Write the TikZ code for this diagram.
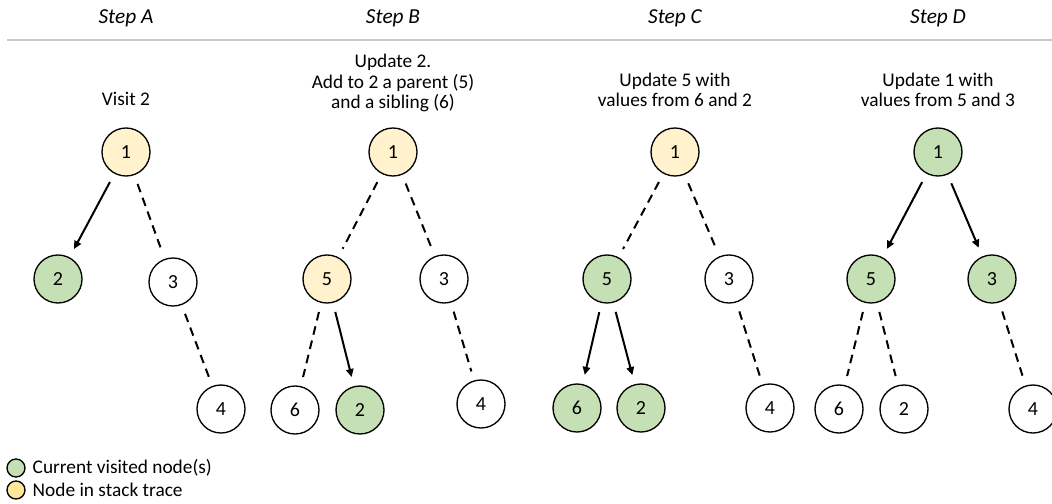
\documentclass[tikz,border=0pt]{standalone}
\usepackage{fontspec}
\setmainfont{Carlito}
\usetikzlibrary{arrows.meta}

\definecolor{visitgreen}{HTML}{C5E0B4}
\definecolor{stackyellow}{HTML}{FFF2CC}
\definecolor{legendyellow}{HTML}{FFE699}
\definecolor{rulegray}{HTML}{C8C8C8}

\begin{document}
\begin{tikzpicture}[
  x=0.75pt, y=-0.75pt,
  tnode/.style={circle, draw=black, line width=1pt, minimum size=36pt,
    inner sep=0pt, font=\fontsize{15}{18}\selectfont},
  visited/.style={tnode, fill=visitgreen},
  stacked/.style={tnode, fill=stackyellow},
  plain/.style={tnode, fill=white},
  header/.style={font=\fontsize{16}{19}\selectfont\itshape},
  descr/.style={align=center, font=\fontsize{14.5}{15.4}\selectfont},
  link/.style={line width=1.5pt, shorten <=7pt, shorten >=7pt},
  call/.style={link, -{Triangle[length=6pt,width=5.5pt]}},
  pending/.style={link, dash pattern=on 6.5pt off 4.5pt},
  legdot/.style={circle, draw=black, line width=1pt, minimum size=13.5pt, inner sep=0pt},
  legtext/.style={anchor=west, font=\fontsize{14.5}{17}\selectfont}
]
\useasboundingbox (0,0) rectangle (1052,503);

% column headers and rule
\node[header] (hA) at (126,18) {Step A};
\node[header] (hB) at (393,18) {Step B};
\node[header] (hC) at (675,18) {Step C};
\node[header] (hD) at (938,18) {Step D};
\coordinate (ruleL) at (7,40);
\coordinate (ruleR) at (1052,40);
\draw[rulegray, line width=0.8pt] (ruleL) -- (ruleR);

% step descriptions
\node[descr] (dA) at (126,99) {Visit 2};
\node[descr] (dB) at (393,83) {Update 2.\\Add to 2 a parent (5)\\and a sibling (6)};
\node[descr] (dC) at (675,90) {Update 5 with\\values from 6 and 2};
\node[descr] (dD) at (938,90) {Update 1 with\\values from 5 and 3};

% Step A
\node[stacked] (a1) at (126,152) {1};
\node[visited] (a2) at (58,279) {2};
\node[plain]   (a3) at (173,282) {3};
\node[plain]   (a4) at (221,409) {4};
\draw[call]    (a1) -- (a2);
\draw[pending] (a1) -- (a3);
\draw[pending] (a3) -- (a4);

% Step B
\node[stacked] (b1) at (393,152) {1};
\node[stacked] (b5) at (327,279) {5};
\node[plain]   (b3) at (444,279) {3};
\node[plain]   (b6) at (295,410) {6};
\node[visited] (b2) at (360,410) {2};
\node[plain]   (b4) at (481,404) {4};
\draw[pending] (b1) -- (b5);
\draw[pending] (b1) -- (b3);
\draw[pending] (b5) -- (b6);
\draw[call]    (b5) -- (b2);
\draw[pending] (b3) -- (b4);

% Step C
\node[stacked] (c1) at (675,152) {1};
\node[visited] (c5) at (607,279) {5};
\node[plain]   (c3) at (729,279) {3};
\node[visited] (c6) at (577,408) {6};
\node[visited] (c2) at (641,408) {2};
\node[plain]   (c4) at (770,408) {4};
\draw[pending] (c1) -- (c5);
\draw[pending] (c1) -- (c3);
\draw[call]    (c5) -- (c6);
\draw[call]    (c5) -- (c2);
\draw[pending] (c3) -- (c4);

% Step D
\node[visited] (d1) at (938,152) {1};
\node[visited] (d5) at (871,279) {5};
\node[visited] (d3) at (992,279) {3};
\node[plain]   (d6) at (839,409) {6};
\node[plain]   (d2) at (904,409) {2};
\node[plain]   (d4) at (1033,409) {4};
\draw[call]    (d1) -- (d5);
\draw[call]    (d1) -- (d3);
\draw[pending] (d5) -- (d6);
\draw[pending] (d5) -- (d2);
\draw[pending] (d3) -- (d4);

% legend
\node[legdot, fill=visitgreen]   (lg) at (16,468) {};
\node[legdot, fill=legendyellow] (ly) at (16,490) {};
\node[legtext] (lgt) at (28,468) {Current visited node(s)};
\node[legtext] (lyt) at (28,490) {Node in stack trace};
\end{tikzpicture}
\end{document}
